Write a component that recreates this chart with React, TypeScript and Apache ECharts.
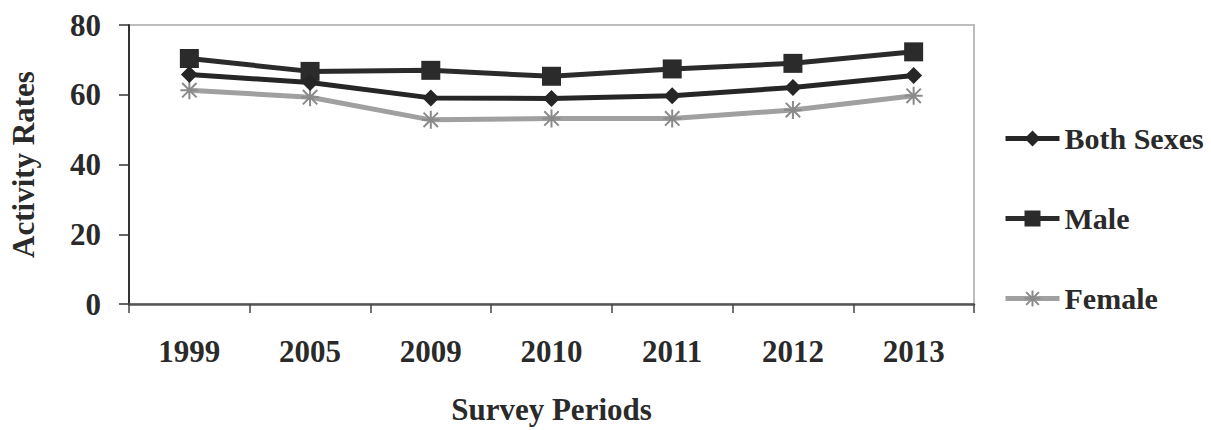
import React, { useEffect, useRef } from "react";
import * as echarts from "echarts";

const categories = ["1999", "2005", "2009", "2010", "2011", "2012", "2013"];
const bothSexes = [65.8, 63.5, 59.1, 58.9, 59.7, 62.1, 65.5];
const male = [70.4, 66.7, 67.0, 65.3, 67.4, 69.0, 72.3];
const female = [61.3, 59.3, 52.8, 53.2, 53.2, 55.6, 59.7];
const yTicks = { min: 0, max: 80, interval: 20 };

const FONT = "'Liberation Serif', 'Times New Roman', serif";
const starPath = "path://M5 0 L5 10 M1 1 L9 9 M1 9 L9 1 M0 5 L10 5";

export default function App() {
  const ref = useRef<HTMLDivElement>(null);
  useEffect(() => {
    if (!ref.current) return;
    const chart = echarts.init(ref.current, null, { renderer: "svg" });
    chart.setOption({
      animation: false,
      backgroundColor: "#ffffff",
      textStyle: { fontFamily: FONT },
      grid: {
        left: 120,
        right: 237,
        top: 25,
        bottom: 119,
        show: true,
        borderColor: "#bdbdbd",
        borderWidth: 2,
        backgroundColor: "transparent",
      },
      legend: {
        orient: "vertical",
        left: 998,
        top: 118,
        itemWidth: 54,
        itemHeight: 20,
        itemGap: 49,
        lineStyle: { width: 5 },
        textStyle: {
          fontFamily: FONT,
          fontWeight: "bold",
          fontSize: 30,
          lineHeight: 31,
          color: "#2a2a2a",
        },
        data: ["Both Sexes", "Male", "Female"],
      },
      xAxis: {
        type: "category",
        data: categories,
        boundaryGap: true,
        name: "Survey Periods",
        nameLocation: "middle",
        nameGap: 90,
        nameTextStyle: { fontFamily: FONT, fontWeight: "bold", fontSize: 31, color: "#2a2a2a" },
        axisLine: { lineStyle: { color: "#555", width: 2.5 } },
        axisTick: { show: true, length: 9, lineStyle: { color: "#444", width: 1.5 } },
        axisLabel: { margin: 32, fontFamily: FONT, fontWeight: "bold", fontSize: 31, color: "#2a2a2a" },
      },
      yAxis: {
        type: "value",
        min: yTicks.min,
        max: yTicks.max,
        interval: yTicks.interval,
        name: "Activity Rates",
        nameLocation: "middle",
        nameGap: 90,
        nameTextStyle: { fontFamily: FONT, fontWeight: "bold", fontSize: 31, color: "#2a2a2a" },
        axisLine: { show: true, lineStyle: { color: "#333", width: 2 } },
        axisTick: { show: true, length: 10, lineStyle: { color: "#333", width: 1.5 } },
        splitLine: { show: false },
        axisLabel: { margin: 28, fontFamily: FONT, fontWeight: "bold", fontSize: 31, color: "#2a2a2a" },
      },
      series: [
        {
          name: "Both Sexes",
          type: "line",
          data: bothSexes,
          symbol: "diamond",
          symbolSize: [17, 17],
          lineStyle: { color: "#262626", width: 5 },
          itemStyle: { color: "#262626" },
          z: 3,
        },
        {
          name: "Male",
          type: "line",
          data: male,
          symbol: "rect",
          symbolSize: 19,
          lineStyle: { color: "#2b2b2b", width: 5 },
          itemStyle: { color: "#2b2b2b" },
          z: 2,
        },
        {
          name: "Female",
          type: "line",
          data: female,
          symbol: starPath,
          symbolSize: 18,
          lineStyle: { color: "#a0a0a0", width: 5 },
          itemStyle: { color: "#a0a0a0", borderColor: "#8a8a8a", borderWidth: 2 },
          z: 1,
        },
      ],
    });
    return () => chart.dispose();
  }, []);
  return (
    <div
      ref={ref}
      style={{ position: "fixed", left: 0, top: 0, width: 1211, height: 430, background: "#fff" }}
    />
  );
}
